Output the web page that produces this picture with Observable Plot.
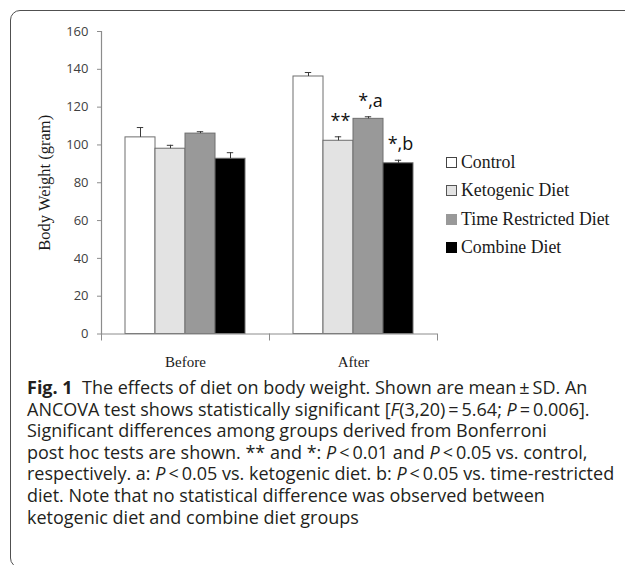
<!DOCTYPE html>
<html>
<head>
<meta charset="utf-8">
<script src="https://cdn.jsdelivr.net/npm/d3@7"></script>
<script src="https://cdn.jsdelivr.net/npm/@observablehq/plot@0.6"></script>
<style>
  html, body { margin: 0; padding: 0; background: #fff; }
  body { width: 625px; height: 565px; overflow: hidden; position: relative; }
  #frame { position: absolute; left: 10px; top: 10px; width: 700px; height: 556px;
           border: 1.4px solid #505050; border-radius: 10px; box-sizing: content-box; }
  #chart { position: absolute; left: 0; top: 0; }
  #legend { position: absolute; left: 446px; top: 0; font-family: "Liberation Serif", "Times New Roman", serif;
            font-size: 17.8px; color: #1a1a1a; }
  .lg-row { position: absolute; white-space: nowrap; display: flex; align-items: center; height: 20px; }
  .lg-sw { width: 9px; height: 9px; border: 1px solid #6e6e6e; margin-right: 4px; flex: none; }
  #caption { position: absolute; left: 27px; top: 377px; font-family: "Open Sans", sans-serif;
             font-size: 18px; line-height: 21.6px; color: #231f20; white-space: nowrap; }
  #caption b { font-weight: 700; }
</style>
</head>
<body>
<div id="frame"></div>
<div id="chart"></div>
<div id="legend"></div>
<div id="caption"></div>
<script>
// ---- data ----
const phases = ["Before", "After"];
const diets = ["Control", "Ketogenic Diet", "Time Restricted Diet", "Combine Diet"];
const beforeMean = [104, 98, 106, 92.7];
const beforeSD = [5.2, 1.8, 1, 3.2];
const afterMean = [136.2, 102.2, 113.8, 90.3];
const afterSD = [2.1, 2.1, 1.1, 1.6];
const afterMarks = ["", "**", "*,a", "*,b"];
const beforeMarks = ["", "", "", ""];
const fills = ["#ffffff", "#e3e3e3", "#999999", "#000000"];
const yTicks = [0, 20, 40, 60, 80, 100, 120, 140, 160];
const yTitle = "Body Weight (gram)";
const captionLines = [
  '<b>Fig. 1</b>&nbsp; The effects of diet on body weight. Shown are mean\u2009±\u2009SD. An',
  'ANCOVA test shows statistically significant [<i>F</i>(3,20)\u2009=\u20095.64; <i>P</i>\u2009=\u20090.006].',
  'Significant differences among groups derived from Bonferroni',
  'post hoc tests are shown. ** and *: <i>P</i>\u2009&lt;\u20090.01 and <i>P</i>\u2009&lt;\u20090.05 vs. control,',
  'respectively. a: <i>P</i>\u2009&lt;\u20090.05 vs. ketogenic diet. b: <i>P</i>\u2009&lt;\u20090.05 vs. time-restricted',
  'diet. Note that no statistical difference was observed between',
  'ketogenic diet and combine diet groups'
];

const rows = phases.flatMap((p, i) => diets.map((d, j) => ({
  phase: p, diet: d,
  mean: (i ? afterMean : beforeMean)[j],
  sd: (i ? afterSD : beforeSD)[j],
  mark: (i ? afterMarks : beforeMarks)[j]
})));

const axisGray = "#8c8c8c";
const W = 625, H = 370, mTop = 31, mBottom = 36.5;
const innerH = H - mTop - mBottom;

const plot = Plot.plot({
  width: W,
  height: H,
  marginTop: mTop,
  marginBottom: mBottom,
  marginLeft: 100,
  marginRight: 188,
  style: { fontFamily: "Open Sans, sans-serif", background: "transparent", overflow: "visible" },
  fx: { domain: phases, padding: 0, label: null },
  x: { domain: diets, paddingInner: 0, paddingOuter: 0.74, axis: null },
  y: { domain: [0, 160], label: null },
  color: { domain: diets, range: fills },
  marks: [
    // y-axis line (left-most facet only)
    Plot.frame({ anchor: "left", facetAnchor: "left", stroke: axisGray, strokeWidth: 1.2 }),
    // short ticks below the x axis at category boundaries
    Plot.frame({ anchor: "left", insetTop: innerH, insetBottom: -6, stroke: axisGray, strokeWidth: 1 }),
    Plot.frame({ anchor: "right", facetAnchor: "right", insetTop: innerH, insetBottom: -6, stroke: axisGray, strokeWidth: 1 }),
    Plot.barY(rows, { fx: "phase", x: "diet", y: "mean", fill: "diet", stroke: "#6e6e6e", strokeWidth: 1 }),
    Plot.ruleX(rows, { fx: "phase", x: "diet", y1: "mean", y2: d => d.mean + d.sd, stroke: "#3a3a3a", strokeWidth: 1 }),
    Plot.tickY(rows, { fx: "phase", x: "diet", y: d => d.mean + d.sd, insetLeft: 11.8, insetRight: 11.8, stroke: "#3a3a3a", strokeWidth: 1 }),
    Plot.text(rows, { fx: "phase", x: "diet", y: d => d.mean + d.sd, text: "mark", dy: -10, dx: 2, lineAnchor: "bottom",
      fontSize: 18, fontFamily: "Open Sans, sans-serif", fill: "#111" }),
    Plot.ruleY([0], { stroke: axisGray, strokeWidth: 1 }),
    Plot.axisY({ ticks: yTicks, tickSize: 4, tickPadding: 9, stroke: axisGray, fontSize: 13, color: "#404040", label: null }),
    Plot.axisFx({ anchor: "bottom", tickSize: 0, tickPadding: 22, fontSize: 15, fontFamily: "Liberation Serif, serif", color: "#1a1a1a", label: null }),
    Plot.text([yTitle], { fx: () => "Before", frameAnchor: "left", rotate: -90, dx: -57, text: d => d,
      fontFamily: "Liberation Serif, serif", fontSize: 16.5, fill: "#1a1a1a", textAnchor: "middle", lineAnchor: "middle" })
  ]
});

document.getElementById("chart").appendChild(plot);

// legend
const legendTop0 = 152, legendStep = 28.5;
const lg = d3.select("#legend");
diets.forEach((d, i) => {
  const row = lg.append("div").attr("class", "lg-row").style("top", (legendTop0 + i * legendStep) + "px");
  row.append("div").attr("class", "lg-sw").style("background", fills[i])
    .style("border-color", i === 0 ? "#444" : i === 1 ? "#555" : fills[i]);
  row.append("span").text(d);
});

// caption
document.getElementById("caption").innerHTML = captionLines.join("<br>");
</script>
</body>
</html>
